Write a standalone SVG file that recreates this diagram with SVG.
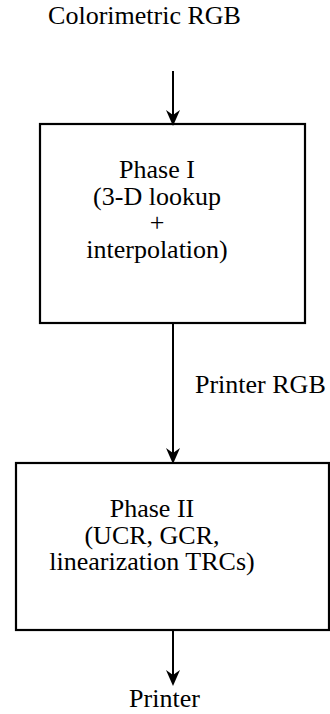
<svg xmlns="http://www.w3.org/2000/svg" width="330" height="714" viewBox="0 0 330 714">
<style>
text{font-family:'Liberation Serif','Times New Roman',Times,serif;font-size:26px;fill:#000}
.c{text-anchor:middle}
.box{fill:#fff;stroke:#000;stroke-width:2.2}
.head{fill:#000;stroke:none}
</style>
<g id="labels">
<text class="c" x="144.5" y="24">Colorimetric RGB</text>
<text x="195" y="393">Printer RGB</text>
<text class="c" x="164.5" y="707">Printer</text>
</g>
<g id="phase1">
<rect class="box" x="40" y="124" width="265" height="199"/>
<text class="c" x="157" y="178">Phase I</text>
<text class="c" x="157" y="204.5">(3-D lookup</text>
<text class="c" x="157" y="231">+</text>
<text class="c" x="157" y="257.5">interpolation)</text>
</g>
<g id="phase2">
<rect class="box" x="16" y="463" width="313" height="167"/>
<text class="c" x="152" y="517">Phase II</text>
<text class="c" x="152" y="543.5">(UCR, GCR,</text>
<text class="c" x="152" y="570">linearization TRCs)</text>
</g>
<g id="connectors" stroke="#000" stroke-width="2">
<line x1="173" y1="71" x2="173" y2="120"/>
<path class="head" d="M166,110 L173,126 L180,110 L173,115 Z"/>
<line x1="173" y1="324" x2="173" y2="458"/>
<path class="head" d="M166,448 L173,464 L180,448 L173,453 Z"/>
<line x1="173" y1="631" x2="173" y2="680"/>
<path class="head" d="M166,670 L173,686 L180,670 L173,675 Z"/>
</g>
</svg>
